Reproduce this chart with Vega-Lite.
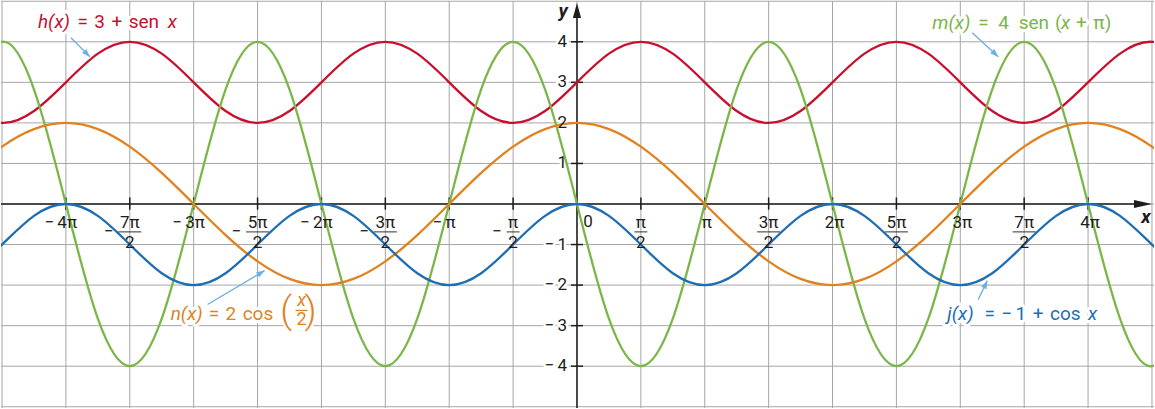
{
  "$schema": "https://vega.github.io/schema/vega-lite/v6.json",
  "width": 1155,
  "height": 409,
  "padding": 0,
  "autosize": {"type": "fit", "contains": "padding"},
  "background": "white",
  "config": {"view": {"stroke": null}, "text": {"font": "Roboto"}},
  "datasets": {
    "one": [{}],
    "cv": [
      {"f":"h","x":-4.75,"y":2.2929},{"f":"h","x":-4.5,"y":2},{"f":"h","x":-4.25,"y":2.2929},{"f":"h","x":-4,"y":3},{"f":"h","x":-3.75,"y":3.7071},{"f":"h","x":-3.5,"y":4},{"f":"h","x":-3.25,"y":3.7071},{"f":"h","x":-3,"y":3},{"f":"h","x":-2.75,"y":2.2929},{"f":"h","x":-2.5,"y":2},{"f":"h","x":-2.25,"y":2.2929},{"f":"h","x":-2,"y":3},{"f":"h","x":-1.75,"y":3.7071},{"f":"h","x":-1.5,"y":4},{"f":"h","x":-1.25,"y":3.7071},{"f":"h","x":-1,"y":3},{"f":"h","x":-0.75,"y":2.2929},{"f":"h","x":-0.5,"y":2},{"f":"h","x":-0.25,"y":2.2929},{"f":"h","x":0,"y":3},{"f":"h","x":0.25,"y":3.7071},{"f":"h","x":0.5,"y":4},{"f":"h","x":0.75,"y":3.7071},{"f":"h","x":1,"y":3},{"f":"h","x":1.25,"y":2.2929},{"f":"h","x":1.5,"y":2},{"f":"h","x":1.75,"y":2.2929},{"f":"h","x":2,"y":3},{"f":"h","x":2.25,"y":3.7071},{"f":"h","x":2.5,"y":4},{"f":"h","x":2.75,"y":3.7071},{"f":"h","x":3,"y":3},{"f":"h","x":3.25,"y":2.2929},{"f":"h","x":3.5,"y":2},{"f":"h","x":3.75,"y":2.2929},{"f":"h","x":4,"y":3},{"f":"h","x":4.25,"y":3.7071},{"f":"h","x":4.5,"y":4},{"f":"h","x":4.75,"y":3.7071},
      {"f":"m","x":-4.75,"y":2.8284},{"f":"m","x":-4.5,"y":4},{"f":"m","x":-4.25,"y":2.8284},{"f":"m","x":-4,"y":0},{"f":"m","x":-3.75,"y":-2.8284},{"f":"m","x":-3.5,"y":-4},{"f":"m","x":-3.25,"y":-2.8284},{"f":"m","x":-3,"y":0},{"f":"m","x":-2.75,"y":2.8284},{"f":"m","x":-2.5,"y":4},{"f":"m","x":-2.25,"y":2.8284},{"f":"m","x":-2,"y":0},{"f":"m","x":-1.75,"y":-2.8284},{"f":"m","x":-1.5,"y":-4},{"f":"m","x":-1.25,"y":-2.8284},{"f":"m","x":-1,"y":0},{"f":"m","x":-0.75,"y":2.8284},{"f":"m","x":-0.5,"y":4},{"f":"m","x":-0.25,"y":2.8284},{"f":"m","x":0,"y":0},{"f":"m","x":0.25,"y":-2.8284},{"f":"m","x":0.5,"y":-4},{"f":"m","x":0.75,"y":-2.8284},{"f":"m","x":1,"y":0},{"f":"m","x":1.25,"y":2.8284},{"f":"m","x":1.5,"y":4},{"f":"m","x":1.75,"y":2.8284},{"f":"m","x":2,"y":0},{"f":"m","x":2.25,"y":-2.8284},{"f":"m","x":2.5,"y":-4},{"f":"m","x":2.75,"y":-2.8284},{"f":"m","x":3,"y":0},{"f":"m","x":3.25,"y":2.8284},{"f":"m","x":3.5,"y":4},{"f":"m","x":3.75,"y":2.8284},{"f":"m","x":4,"y":0},{"f":"m","x":4.25,"y":-2.8284},{"f":"m","x":4.5,"y":-4},{"f":"m","x":4.75,"y":-2.8284},
      {"f":"n","x":-4.75,"y":0.7654},{"f":"n","x":-4.5,"y":1.4142},{"f":"n","x":-4.25,"y":1.8478},{"f":"n","x":-4,"y":2},{"f":"n","x":-3.75,"y":1.8478},{"f":"n","x":-3.5,"y":1.4142},{"f":"n","x":-3.25,"y":0.7654},{"f":"n","x":-3,"y":0},{"f":"n","x":-2.75,"y":-0.7654},{"f":"n","x":-2.5,"y":-1.4142},{"f":"n","x":-2.25,"y":-1.8478},{"f":"n","x":-2,"y":-2},{"f":"n","x":-1.75,"y":-1.8478},{"f":"n","x":-1.5,"y":-1.4142},{"f":"n","x":-1.25,"y":-0.7654},{"f":"n","x":-1,"y":0},{"f":"n","x":-0.75,"y":0.7654},{"f":"n","x":-0.5,"y":1.4142},{"f":"n","x":-0.25,"y":1.8478},{"f":"n","x":0,"y":2},{"f":"n","x":0.25,"y":1.8478},{"f":"n","x":0.5,"y":1.4142},{"f":"n","x":0.75,"y":0.7654},{"f":"n","x":1,"y":0},{"f":"n","x":1.25,"y":-0.7654},{"f":"n","x":1.5,"y":-1.4142},{"f":"n","x":1.75,"y":-1.8478},{"f":"n","x":2,"y":-2},{"f":"n","x":2.25,"y":-1.8478},{"f":"n","x":2.5,"y":-1.4142},{"f":"n","x":2.75,"y":-0.7654},{"f":"n","x":3,"y":0},{"f":"n","x":3.25,"y":0.7654},{"f":"n","x":3.5,"y":1.4142},{"f":"n","x":3.75,"y":1.8478},{"f":"n","x":4,"y":2},{"f":"n","x":4.25,"y":1.8478},{"f":"n","x":4.5,"y":1.4142},{"f":"n","x":4.75,"y":0.7654},
      {"f":"j","x":-4.75,"y":-1.7071},{"f":"j","x":-4.5,"y":-1},{"f":"j","x":-4.25,"y":-0.2929},{"f":"j","x":-4,"y":0},{"f":"j","x":-3.75,"y":-0.2929},{"f":"j","x":-3.5,"y":-1},{"f":"j","x":-3.25,"y":-1.7071},{"f":"j","x":-3,"y":-2},{"f":"j","x":-2.75,"y":-1.7071},{"f":"j","x":-2.5,"y":-1},{"f":"j","x":-2.25,"y":-0.2929},{"f":"j","x":-2,"y":0},{"f":"j","x":-1.75,"y":-0.2929},{"f":"j","x":-1.5,"y":-1},{"f":"j","x":-1.25,"y":-1.7071},{"f":"j","x":-1,"y":-2},{"f":"j","x":-0.75,"y":-1.7071},{"f":"j","x":-0.5,"y":-1},{"f":"j","x":-0.25,"y":-0.2929},{"f":"j","x":0,"y":0},{"f":"j","x":0.25,"y":-0.2929},{"f":"j","x":0.5,"y":-1},{"f":"j","x":0.75,"y":-1.7071},{"f":"j","x":1,"y":-2},{"f":"j","x":1.25,"y":-1.7071},{"f":"j","x":1.5,"y":-1},{"f":"j","x":1.75,"y":-0.2929},{"f":"j","x":2,"y":0},{"f":"j","x":2.25,"y":-0.2929},{"f":"j","x":2.5,"y":-1},{"f":"j","x":2.75,"y":-1.7071},{"f":"j","x":3,"y":-2},{"f":"j","x":3.25,"y":-1.7071},{"f":"j","x":3.5,"y":-1},{"f":"j","x":3.75,"y":-0.2929},{"f":"j","x":4,"y":0},{"f":"j","x":4.25,"y":-0.2929},{"f":"j","x":4.5,"y":-1},{"f":"j","x":4.75,"y":-1.7071}
    ],
    "gx": [{"v":-4.5},{"v":-4},{"v":-3.5},{"v":-3},{"v":-2.5},{"v":-2},{"v":-1.5},{"v":-1},{"v":-0.5},{"v":0},{"v":0.5},{"v":1},{"v":1.5},{"v":2},{"v":2.5},{"v":3},{"v":3.5},{"v":4},{"v":4.5}],
    "gy": [{"v":-5},{"v":-4},{"v":-3},{"v":-2},{"v":-1},{"v":0},{"v":1},{"v":2},{"v":3},{"v":4},{"v":5}],
    "xt": [{"v":-4},{"v":-3.5},{"v":-3},{"v":-2.5},{"v":-2},{"v":-1.5},{"v":-1},{"v":-0.5},{"v":0.5},{"v":1},{"v":1.5},{"v":2},{"v":2.5},{"v":3},{"v":3.5},{"v":4}],
    "yt": [{"v":-4},{"v":-3},{"v":-2},{"v":-1},{"v":1},{"v":2},{"v":3},{"v":4}],
    "xi": [{"v":-4,"t":"−\u20064π"},{"v":-3,"t":"−\u20063π"},{"v":-2,"t":"−\u20062π"},{"v":-1,"t":"−\u2006π"},{"v":1,"t":"π"},{"v":2,"t":"2π"},{"v":3,"t":"3π"},{"v":4,"t":"4π"}],
    "xf": [{"v":-3.5,"t":"7π"},{"v":-2.5,"t":"5π"},{"v":-1.5,"t":"3π"},{"v":-0.5,"t":"π"},{"v":0.5,"t":"π"},{"v":1.5,"t":"3π"},{"v":2.5,"t":"5π"},{"v":3.5,"t":"7π"}],
    "yl": [{"v":4,"t":"4"},{"v":3,"t":"3"},{"v":2,"t":"2"},{"v":1,"t":"1"},{"v":-1,"t":"−\u20061"},{"v":-2,"t":"−\u20062"},{"v":-3,"t":"−\u20063"},{"v":-4,"t":"−\u20064"}],
    "fli": [
      {"f":"h","x":-4.219,"y":4.49,"t":"h(x)"},
      {"f":"h","x":-3.203,"y":4.49,"t":"x"},
      {"f":"m","x":2.781,"y":4.46,"t":"m(x)"},
      {"f":"m","x":3.789,"y":4.46,"t":"x"},
      {"f":"n","x":-3.18,"y":-2.724,"t":"n(x)"},
      {"f":"j","x":2.898,"y":-2.724,"t":"j(x)"},
      {"f":"j","x":4.0,"y":-2.724,"t":"x"}
    ],
    "fln": [
      {"f":"h","x":-3.91,"y":4.49,"t":"=\u20043\u2004+\u2004sen"},
      {"f":"m","x":3.14,"y":4.46,"t":"=\u20024\u2002sen"},
      {"f":"m","x":3.742,"y":4.46,"t":"("},
      {"f":"m","x":3.906,"y":4.46,"t":"+\u2004π)"},
      {"f":"n","x":-2.883,"y":-2.724,"t":"=\u20042\u2004cos"},
      {"f":"j","x":3.19,"y":-2.724,"t":"=\u2004−\u20061\u2004+\u2004cos"}
    ],
    "ar": [
      {"x":-3.961,"y":4.098,"x2":-3.8125,"y2":3.632},
      {"x":3.094,"y":4.221,"x2":3.297,"y2":3.632},
      {"x":-2.891,"y":-2.479,"x2":-2.445,"y2":-1.644},
      {"x":3.141,"y":-2.356,"x2":3.211,"y2":-1.89}
    ]
  },
  "layer": [
    {"data": {"name": "gx"}, "mark": {"type": "rule", "color": "#a6a6a6", "strokeWidth": 1},
     "encoding": {"x": {"field": "v", "type": "quantitative", "scale": {"domain": [-4.508, 4.516], "nice": false, "zero": false}, "axis": null}}},
    {"data": {"name": "gy"}, "mark": {"type": "rule", "color": "#a6a6a6", "strokeWidth": 1},
     "encoding": {"y": {"field": "v", "type": "quantitative", "scale": {"domain": [-5.031, 5.006], "nice": false, "zero": false}, "axis": null}}},
    {"data": {"name": "one"}, "mark": {"type": "rect", "color": "white"},
     "encoding": {"x": {"datum": -2.297, "type": "quantitative", "axis": null}, "x2": {"datum": -2.0625},
                  "y": {"datum": -2.12, "type": "quantitative", "axis": null}, "y2": {"datum": -3.24}}},
    {"data": {"name": "yl"}, "mark": {"type": "text", "fontSize": 17, "align": "right", "baseline": "middle", "dx": -10, "color": "white", "stroke": "white", "strokeWidth": 5, "strokeJoin": "round"},
     "encoding": {"x": {"datum": 0, "type": "quantitative", "axis": null}, "y": {"field": "v", "type": "quantitative", "axis": null}, "text": {"field": "t"}}},
    {"data": {"name": "fln"}, "mark": {"type": "text", "fontSize": 19, "align": "left", "baseline": "middle", "color": "white", "stroke": "white", "strokeWidth": 6, "strokeJoin": "round"},
     "encoding": {"x": {"field": "x", "type": "quantitative", "axis": null}, "y": {"field": "y", "type": "quantitative", "axis": null}, "text": {"field": "t"}}},
    {"data": {"name": "fli"}, "mark": {"type": "text", "fontSize": 19, "fontStyle": "italic", "align": "left", "baseline": "middle", "color": "white", "stroke": "white", "strokeWidth": 6, "strokeJoin": "round"},
     "encoding": {"x": {"field": "x", "type": "quantitative", "axis": null}, "y": {"field": "y", "type": "quantitative", "axis": null}, "text": {"field": "t"}}},
    {"data": {"name": "one"}, "mark": {"type": "rule", "color": "#1d1d1b", "strokeWidth": 1.5},
     "encoding": {"x": {"datum": -4.508, "type": "quantitative", "axis": null}, "x2": {"datum": 4.43}, "y": {"datum": 0, "type": "quantitative", "axis": null}}},
    {"data": {"name": "one"}, "mark": {"type": "rule", "color": "#1d1d1b", "strokeWidth": 1.5},
     "encoding": {"x": {"datum": 0, "type": "quantitative", "axis": null}, "y": {"datum": -5.031, "type": "quantitative", "axis": null}, "y2": {"datum": 4.773}}},
    {"data": {"name": "xt"}, "mark": {"type": "rule", "color": "#1d1d1b", "strokeWidth": 1.5},
     "encoding": {"x": {"field": "v", "type": "quantitative", "axis": null}, "y": {"datum": 0.16, "type": "quantitative", "axis": null}, "y2": {"datum": -0.14}}},
    {"data": {"name": "yt"}, "mark": {"type": "rule", "color": "#1d1d1b", "strokeWidth": 1.5},
     "encoding": {"x": {"datum": -0.047, "type": "quantitative", "axis": null}, "x2": {"datum": 0.047}, "y": {"field": "v", "type": "quantitative", "axis": null}}},
    {"data": {"name": "one"}, "mark": {"type": "point", "shape": "M1,0L-1,-0.45L-1,0.45Z", "size": 324, "filled": true, "opacity": 1, "color": "#1d1d1b"},
     "encoding": {"x": {"datum": 4.43, "type": "quantitative", "axis": null}, "y": {"datum": 0, "type": "quantitative", "axis": null}}},
    {"data": {"name": "one"}, "mark": {"type": "point", "shape": "M0,-1L0.55,1L-0.55,1Z", "size": 225, "filled": true, "opacity": 1, "color": "#1d1d1b"},
     "encoding": {"x": {"datum": 0, "type": "quantitative", "axis": null}, "y": {"datum": 4.773, "type": "quantitative", "axis": null}}},
    {"data": {"name": "cv"}, "mark": {"type": "line", "interpolate": "natural", "strokeWidth": 2.3, "clip": true},
     "encoding": {
       "x": {"field": "x", "type": "quantitative", "scale": {"domain": [-4.508, 4.516], "nice": false, "zero": false}, "axis": null},
       "y": {"field": "y", "type": "quantitative", "scale": {"domain": [-5.031, 5.006], "nice": false, "zero": false}, "axis": null},
       "color": {"field": "f", "type": "nominal", "scale": {"domain": ["j", "n", "m", "h"], "range": ["#1f6db3", "#e0821e", "#7ab648", "#c8102e"]}, "legend": null}
     }},
    {"data": {"name": "yl"}, "mark": {"type": "text", "fontSize": 17, "align": "right", "baseline": "middle", "dx": -10, "color": "#1d1d1b"},
     "encoding": {"x": {"datum": 0, "type": "quantitative", "axis": null}, "y": {"field": "v", "type": "quantitative", "axis": null}, "text": {"field": "t"}}},
    {"data": {"name": "xi"}, "transform": [{"filter": "datum.v < 0"}], "mark": {"type": "text", "fontSize": 17, "align": "center", "baseline": "middle", "dx": -5, "color": "#1d1d1b"},
     "encoding": {"x": {"field": "v", "type": "quantitative", "axis": null}, "y": {"datum": -0.46, "type": "quantitative", "axis": null}, "text": {"field": "t"}}},
    {"data": {"name": "xi"}, "transform": [{"filter": "datum.v > 0"}], "mark": {"type": "text", "fontSize": 17, "align": "center", "baseline": "middle", "dx": 2, "color": "#1d1d1b"},
     "encoding": {"x": {"field": "v", "type": "quantitative", "axis": null}, "y": {"datum": -0.46, "type": "quantitative", "axis": null}, "text": {"field": "t"}}},
    {"data": {"name": "one"}, "mark": {"type": "text", "fontSize": 17, "align": "center", "baseline": "middle", "dx": 11, "color": "#1d1d1b", "text": "0"},
     "encoding": {"x": {"datum": 0, "type": "quantitative", "axis": null}, "y": {"datum": -0.44, "type": "quantitative", "axis": null}}},
    {"data": {"name": "xf"}, "mark": {"type": "text", "fontSize": 17, "align": "center", "baseline": "middle", "color": "#1d1d1b"},
     "encoding": {"x": {"field": "v", "type": "quantitative", "axis": null}, "y": {"datum": -0.46, "type": "quantitative", "axis": null}, "text": {"field": "t"}}},
    {"data": {"name": "xf"}, "mark": {"type": "text", "fontSize": 17, "align": "center", "baseline": "middle", "color": "#1d1d1b", "text": "2"},
     "encoding": {"x": {"field": "v", "type": "quantitative", "axis": null}, "y": {"datum": -0.96, "type": "quantitative", "axis": null}}},
    {"data": {"name": "xf"}, "transform": [{"filter": "datum.t != 'π'"}], "mark": {"type": "tick", "orient": "horizontal", "color": "#1d1d1b", "thickness": 1.3, "size": 23},
     "encoding": {"x": {"field": "v", "type": "quantitative", "axis": null}, "y": {"datum": -0.687, "type": "quantitative", "axis": null}}},
    {"data": {"name": "xf"}, "transform": [{"filter": "datum.t == 'π'"}], "mark": {"type": "tick", "orient": "horizontal", "color": "#1d1d1b", "thickness": 1.3, "size": 13},
     "encoding": {"x": {"field": "v", "type": "quantitative", "axis": null}, "y": {"datum": -0.687, "type": "quantitative", "axis": null}}},
    {"data": {"name": "xf"}, "transform": [{"filter": "datum.v < 0 && datum.t != 'π'"}], "mark": {"type": "text", "fontSize": 17, "align": "center", "baseline": "middle", "dx": -21, "color": "#1d1d1b", "text": "−"},
     "encoding": {"x": {"field": "v", "type": "quantitative", "axis": null}, "y": {"datum": -0.687, "type": "quantitative", "axis": null}}},
    {"data": {"name": "xf"}, "transform": [{"filter": "datum.v < 0 && datum.t == 'π'"}], "mark": {"type": "text", "fontSize": 17, "align": "center", "baseline": "middle", "dx": -16, "color": "#1d1d1b", "text": "−"},
     "encoding": {"x": {"field": "v", "type": "quantitative", "axis": null}, "y": {"datum": -0.687, "type": "quantitative", "axis": null}}},
    {"data": {"name": "fln"}, "mark": {"type": "text", "fontSize": 19, "align": "left", "baseline": "middle"},
     "encoding": {"x": {"field": "x", "type": "quantitative", "axis": null}, "y": {"field": "y", "type": "quantitative", "axis": null}, "text": {"field": "t"},
                  "color": {"field": "f", "type": "nominal", "legend": null}}},
    {"data": {"name": "fli"}, "mark": {"type": "text", "fontSize": 19, "fontStyle": "italic", "align": "left", "baseline": "middle"},
     "encoding": {"x": {"field": "x", "type": "quantitative", "axis": null}, "y": {"field": "y", "type": "quantitative", "axis": null}, "text": {"field": "t"},
                  "color": {"field": "f", "type": "nominal", "legend": null}}},
    {"data": {"name": "one"}, "mark": {"type": "text", "fontSize": 37, "fontWeight": 300, "align": "center", "baseline": "middle", "color": "#e0821e", "text": "("},
     "encoding": {"x": {"datum": -2.277, "type": "quantitative", "axis": null}, "y": {"datum": -2.66, "type": "quantitative", "axis": null}}},
    {"data": {"name": "one"}, "mark": {"type": "text", "fontSize": 37, "fontWeight": 300, "align": "center", "baseline": "middle", "color": "#e0821e", "text": ")"},
     "encoding": {"x": {"datum": -2.086, "type": "quantitative", "axis": null}, "y": {"datum": -2.66, "type": "quantitative", "axis": null}}},
    {"data": {"name": "one"}, "mark": {"type": "text", "fontSize": 18, "fontStyle": "italic", "align": "center", "baseline": "middle", "color": "#e0821e", "text": "x"},
     "encoding": {"x": {"datum": -2.156, "type": "quantitative", "axis": null}, "y": {"datum": -2.38, "type": "quantitative", "axis": null}}},
    {"data": {"name": "one"}, "mark": {"type": "text", "fontSize": 18, "align": "center", "baseline": "middle", "color": "#e0821e", "text": "2"},
     "encoding": {"x": {"datum": -2.156, "type": "quantitative", "axis": null}, "y": {"datum": -2.859, "type": "quantitative", "axis": null}}},
    {"data": {"name": "one"}, "mark": {"type": "rule", "color": "#e0821e", "strokeWidth": 1.3},
     "encoding": {"x": {"datum": -2.203, "type": "quantitative", "axis": null}, "x2": {"datum": -2.109}, "y": {"datum": -2.626, "type": "quantitative", "axis": null}}},
    {"data": {"name": "ar"}, "mark": {"type": "rule", "color": "#6aaee2", "strokeWidth": 1.3},
     "encoding": {"x": {"field": "x", "type": "quantitative", "axis": null}, "y": {"field": "y", "type": "quantitative", "axis": null}, "x2": {"field": "x2"}, "y2": {"field": "y2"}}},
    {"data": {"name": "one"}, "mark": {"type": "point", "shape": "M0,-1L0.7,1L-0.7,1Z", "size": 70, "filled": true, "opacity": 1, "color": "#6aaee2", "angle": 135},
     "encoding": {"x": {"datum": -3.834, "type": "quantitative", "axis": null}, "y": {"datum": 3.701, "type": "quantitative", "axis": null}}},
    {"data": {"name": "one"}, "mark": {"type": "point", "shape": "M0,-1L0.7,1L-0.7,1Z", "size": 70, "filled": true, "opacity": 1, "color": "#6aaee2", "angle": 133},
     "encoding": {"x": {"datum": 3.274, "type": "quantitative", "axis": null}, "y": {"datum": 3.698, "type": "quantitative", "axis": null}}},
    {"data": {"name": "one"}, "mark": {"type": "point", "shape": "M0,-1L0.7,1L-0.7,1Z", "size": 70, "filled": true, "opacity": 1, "color": "#6aaee2", "angle": 59},
     "encoding": {"x": {"datum": -2.472, "type": "quantitative", "axis": null}, "y": {"datum": -1.694, "type": "quantitative", "axis": null}}},
    {"data": {"name": "one"}, "mark": {"type": "point", "shape": "M0,-1L0.7,1L-0.7,1Z", "size": 70, "filled": true, "opacity": 1, "color": "#6aaee2", "angle": 25},
     "encoding": {"x": {"datum": 3.198, "type": "quantitative", "axis": null}, "y": {"datum": -1.978, "type": "quantitative", "axis": null}}},
    {"data": {"name": "one"}, "mark": {"type": "text", "fontSize": 19, "fontStyle": "italic", "fontWeight": "bold", "align": "center", "baseline": "middle", "color": "#1d1d1b", "text": "x"},
     "encoding": {"x": {"datum": 4.453, "type": "quantitative", "axis": null}, "y": {"datum": -0.331, "type": "quantitative", "axis": null}}},
    {"data": {"name": "one"}, "mark": {"type": "text", "fontSize": 19, "fontStyle": "italic", "fontWeight": "bold", "align": "center", "baseline": "middle", "color": "#1d1d1b", "text": "y"},
     "encoding": {"x": {"datum": -0.109, "type": "quantitative", "axis": null}, "y": {"datum": 4.761, "type": "quantitative", "axis": null}}}
  ]
}
